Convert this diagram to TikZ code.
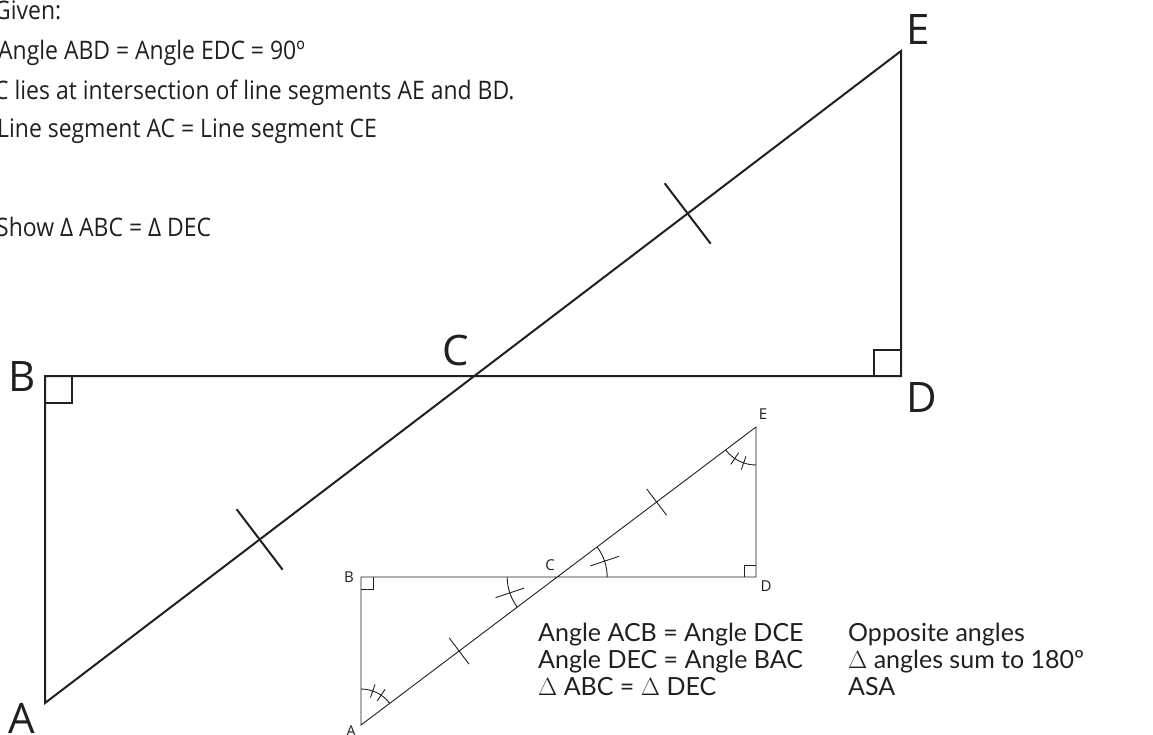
\documentclass[tikz,border=0pt]{standalone}
\usepackage{fontspec}
\setmainfont{Open Sans}
\newfontfamily\givenfont[FakeStretch=0.9]{Open Sans}
\newfontfamily\hand{Lato}
\usetikzlibrary{calc}
\definecolor{ink}{HTML}{231F20}
\begin{document}
\begin{tikzpicture}[x=1pt,y=-1pt,
  big/.style={draw=ink, line width=2pt},
  bigsq/.style={draw=ink, line width=1.2pt},
  small/.style={draw=ink, line width=0.9pt},
  biglab/.style={font=\fontsize{42}{42}\selectfont, text=ink, inner sep=0pt},
  smalllab/.style={font=\fontsize{15}{15}\selectfont, text=ink, inner sep=0pt},
  given/.style={font=\givenfont\fontsize{25.5}{28}\selectfont, text=ink, anchor=base west, inner sep=0pt},
  hw/.style={font=\hand\fontsize{25}{27}\selectfont, text=ink, anchor=base west, inner sep=0pt}]
\useasboundingbox (0,0) rectangle (1153,734);
\def\ang{37.03}
% ---------- big figure ----------
\coordinate (A) at (45,703);
\coordinate (B) at (45,376);
\coordinate (D) at (901,376);
\coordinate (E) at (901,51);
\coordinate (C) at (intersection of A--E and B--D);
\draw[big] (A) -- (B) -- (D) -- (E) -- cycle;
\draw[bigsq] ($(B)+(0,27)$) -- ++(27,0) -- ++(0,-27);
\draw[bigsq] ($(D)+(-27,0)$) -- ++(0,-26) -- ++(27,0);
\coordinate (M1) at ($(A)!0.5!(C)$);
\coordinate (M2) at ($(C)!0.5!(E)$);
\draw[big] ($(M1)!38pt!90:(C)$) -- ($(M1)!38pt!-90:(C)$);
\draw[big] ($(M2)!38pt!90:(E)$) -- ($(M2)!38pt!-90:(E)$);
\node[biglab] (lA) at (22,718) {A};
\node[biglab] (lB) at (22,377) {B};
\node[biglab] (lC) at (456,350) {C};
\node[biglab] (lD) at (922,398) {D};
\node[biglab] (lE) at (918,30) {E};
% ---------- given text ----------
\node[given] (t1) at (-6,19) {Given:};
\node[given] (t2) at (-2,59) {Angle ABD = Angle EDC = 90º};
\node[given] (t3) at (-6,99) {C lies at intersection of line segments AE and BD.};
\node[given] (t4) at (-3,137) {Line segment AC = Line segment CE};
\node[given] (t5) at (-4,236) {Show Δ ABC = Δ DEC};
% ---------- small figure ----------
\coordinate (a) at (361,725);
\coordinate (b) at (361,577);
\coordinate (d) at (756,577);
\coordinate (e) at (756,427);
\coordinate (c) at (intersection of a--e and b--d);
\draw[small] (a) -- (b) -- (d) -- (e) -- cycle;
\draw[small] ($(b)+(0,12)$) -- ++(12,0) -- ++(0,-12);
\draw[small] ($(d)+(-12,0)$) -- ++(0,-12) -- ++(12,0);
\coordinate (m1) at ($(a)!0.5!(c)$);
\coordinate (m2) at ($(c)!0.5!(e)$);
\draw[small] ($(m1)!16.5pt!90:(c)$) -- ($(m1)!16.5pt!-90:(c)$);
\draw[small] ($(m2)!16.5pt!90:(e)$) -- ($(m2)!16.5pt!-90:(e)$);
% angle at C
\draw[small] ($(c)+(180-\ang:50)$) arc[start angle=180-\ang, end angle=180, radius=50];
\draw[small] ($(c)+(180-\ang/2:35)$) -- ($(c)+(180-\ang/2:65)$);
\draw[small] ($(c)+(-\ang:50)$) arc[start angle=-\ang, end angle=0, radius=50];
\draw[small] ($(c)+(-\ang/2:35)$) -- ($(c)+(-\ang/2:65)$);
% angle at A
\draw[small] ($(a)+(-90:36)$) arc[start angle=-90, end angle=-\ang, radius=36];
\draw[small] ($(a)+(-71:29)$) -- ($(a)+(-71:43)$);
\draw[small] ($(a)+(-56:29)$) -- ($(a)+(-56:43)$);
% angle at E
\draw[small] ($(e)+(90:38)$) arc[start angle=90, end angle=180-\ang, radius=38];
\draw[small] ($(e)+(109:31)$) -- ($(e)+(109:45)$);
\draw[small] ($(e)+(124:31)$) -- ($(e)+(124:45)$);
\node[smalllab] (la) at (351,731) {A};
\node[smalllab] (lb) at (349,577) {B};
\node[smalllab] (lc) at (550,565) {C};
\node[smalllab] (ld) at (766,586) {D};
\node[smalllab] (le) at (763,414) {E};
% ---------- reasoning ----------
\node[hw] (h1) at (538,641) {Angle ACB = Angle DCE};
\node[hw] (h2) at (538,668) {Angle DEC = Angle BAC};
\node[hw] (h3) at (538,695) {$\Delta$ ABC = $\Delta$ DEC};
\node[hw] (r1) at (848,641) {Opposite angles};
\node[hw] (r2) at (848,668) {$\Delta$ angles sum to 180º};
\node[hw] (r3) at (848,695) {ASA};
\end{tikzpicture}
\end{document}
